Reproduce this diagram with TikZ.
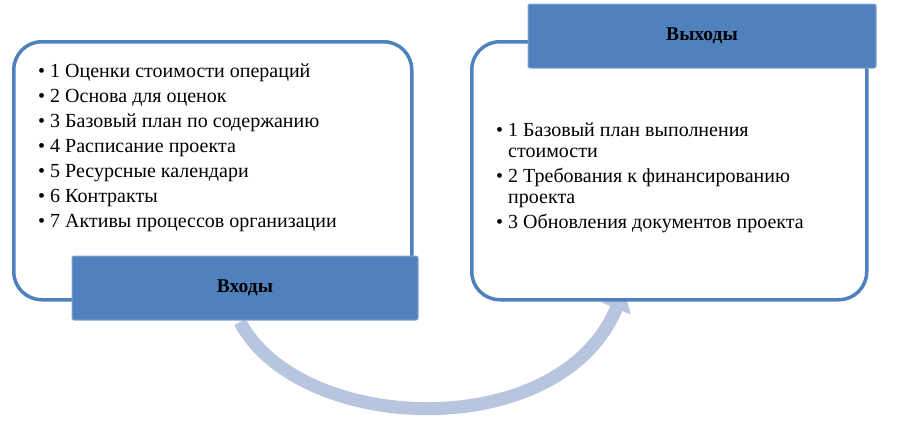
\documentclass[tikz,border=0pt]{standalone}
\usepackage{fontspec}
\setmainfont{Liberation Serif}
\usetikzlibrary{arrows.meta}
\definecolor{bl}{RGB}{79,129,189}
\definecolor{arc}{RGB}{183,197,222}
\begin{document}
\begin{tikzpicture}[x=1pt,y=-1pt,
  frame/.style={draw=bl,line width=3.5pt,rounded corners=28pt,fill=white},
  title/.style={draw=bl!70!white,fill=bl,line width=1pt,rounded corners=2pt,font=\bfseries\fontsize{19.5}{22}\selectfont,anchor=center},
  txt/.style={anchor=north west,align=left,font=\fontsize{20}{25}\selectfont,inner sep=0pt}]
\useasboundingbox (0,0) rectangle (906,439);
\draw[arc,line width=13pt,-{Triangle[width=30pt,length=20pt]}] (240,322) .. controls (300,435) and (560,445) .. (624,290);
\node[frame,minimum width=398pt,minimum height=258pt,anchor=north west] (L) at (12,40) {};
\node[frame,minimum width=395pt,minimum height=258pt,anchor=north west] (R) at (470,40) {};
\node[title,minimum width=346pt,minimum height=64pt] (in) at (245,288) {Входы};
\node[title,minimum width=348pt,minimum height=64pt] (out) at (702,36) {Выходы};
\node[txt] (lt) at (38,64) {• 1 Оценки стоимости операций\\• 2 Основа для оценок\\• 3 Базовый план по содержанию\\• 4 Расписание проекта\\• 5 Ресурсные календари\\• 6 Контракты\\• 7 Активы процессов организации};
\node[txt,font=\fontsize{20}{21}\selectfont] (rt) at (496,123) {• 1 Базовый план выполнения\\\hphantom{• }стоимости\\[4pt]• 2 Требования к финансированию\\\hphantom{• }проекта\\[4pt]• 3 Обновления документов проекта};
\end{tikzpicture}
\end{document}
